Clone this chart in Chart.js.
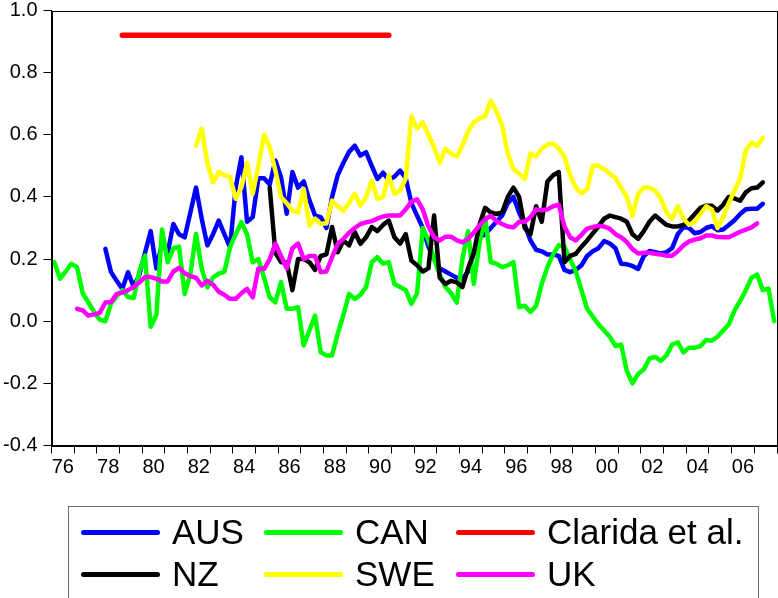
<!DOCTYPE html>
<html>
<head>
<meta charset="utf-8">
<script src="https://cdn.jsdelivr.net/npm/chart.js@4.4.1/dist/chart.umd.min.js"></script>
<style>
  html, body { margin: 0; padding: 0; background: #fff; }
  #wrap { position: relative; width: 778px; height: 598px; overflow: hidden; }
  #legend {
    position: absolute; left: 68px; top: 506px; width: 691px; height: 110px;
    border: 1px solid #707070; box-sizing: border-box; padding: 4px 0 0 12px;
    display: grid; grid-template-columns: 183px 192px auto; grid-auto-rows: 42px;
    font-family: "Liberation Sans", Arial, sans-serif; font-size: 35px; color: #000;
  }
  .item { display: flex; align-items: center; white-space: nowrap; }
  .sw { display: inline-block; width: 79px; height: 5px; border-radius: 3px; margin-right: 12px; }
</style>
</head>
<body>
<div id="wrap">
  <canvas id="c" width="778" height="598"></canvas>
  <div id="legend"></div>
</div>
<script>
// quarterly sample 1976Q1 - 2007Q4
const firstYear = 1976;
const quarterLabels = Array.from({ length: 128 }, (_, i) => `${firstYear + Math.floor(i / 4)}Q${i % 4 + 1}`);

// one row = two years (8 quarters)
const aus = [
  null, null, null, null, null, null, null, null,
  null, 0.233, 0.158, 0.13, 0.104, 0.158, 0.11, 0.15,
  0.22, 0.29, 0.17, 0.25, 0.22, 0.313, 0.28, 0.27,
  0.35, 0.43, 0.33, 0.244, 0.28, 0.324, 0.28, 0.238,
  0.43, 0.528, 0.32, 0.335, 0.46, 0.46, 0.44, 0.517,
  0.463, 0.346, 0.48, 0.43, 0.45, 0.39, 0.34, 0.335,
  0.3, 0.4, 0.47, 0.51, 0.545, 0.565, 0.533, 0.544,
  0.5, 0.458, 0.478, 0.453, 0.465, 0.485, 0.46, 0.38,
  0.34, 0.3, 0.24, 0.2, 0.17, 0.16, 0.15, 0.14,
  0.136, 0.16, 0.22, 0.27, 0.28, 0.3, 0.32, 0.34,
  0.38, 0.4, 0.35, 0.31, 0.26, 0.23, 0.225, 0.215,
  0.215, 0.21, 0.165, 0.158, 0.165, 0.18, 0.21, 0.225,
  0.235, 0.258, 0.25, 0.235, 0.185, 0.183, 0.178, 0.168,
  0.21, 0.226, 0.222, 0.218, 0.222, 0.235, 0.28, 0.303,
  0.3, 0.283, 0.287, 0.3, 0.306, 0.293, 0.295, 0.31,
  0.325, 0.345, 0.36, 0.362, 0.362, 0.378, null, null
];
const can = [
  0.19, 0.137, 0.16, 0.185, 0.174, 0.09, 0.061, 0.03,
  0.005, 0.0, 0.057, 0.08, 0.1, 0.078, 0.075, 0.16,
  0.211, -0.018, 0.02, 0.295, 0.19, 0.235, 0.24, 0.088,
  0.152, 0.281, 0.169, 0.109, 0.141, 0.153, 0.159, 0.238,
  0.28, 0.319, 0.28, 0.19, 0.2, 0.14, 0.077, 0.061,
  0.126, 0.04, 0.04, 0.045, -0.078, -0.03, 0.018, -0.1,
  -0.11, -0.11, -0.04, 0.02, 0.088, 0.072, 0.085, 0.11,
  0.19, 0.206, 0.185, 0.19, 0.12, 0.11, 0.1, 0.056,
  0.09, 0.3, 0.26, 0.2, 0.15, 0.11, 0.09, 0.06,
  0.2, 0.29, 0.12, 0.25, 0.335, 0.19, 0.185, 0.174,
  0.18, 0.19, 0.045, 0.05, 0.03, 0.05, 0.12, 0.175,
  0.215, 0.245, 0.24, 0.2, 0.16, 0.1, 0.04, 0.015,
  -0.01, -0.03, -0.05, -0.08, -0.075, -0.16, -0.2, -0.17,
  -0.155, -0.12, -0.115, -0.128, -0.11, -0.075, -0.068, -0.1,
  -0.085, -0.085, -0.08, -0.06, -0.063, -0.05, -0.03, -0.01,
  0.035, 0.065, 0.1, 0.14, 0.15, 0.1, 0.105, 0.0
];
const nz = [
  null, null, null, null, null, null, null, null,
  null, null, null, null, null, null, null, null,
  null, null, null, null, null, null, null, null,
  null, null, null, null, null, null, null, null,
  null, null, null, null, null, null, 0.43, 0.22,
  0.19, 0.19, 0.1, 0.2, 0.2, 0.19, 0.165, 0.21,
  0.215, 0.303, 0.222, 0.26, 0.244, 0.287, 0.249, 0.27,
  0.303, 0.29, 0.31, 0.324, 0.27, 0.25, 0.28, 0.195,
  0.18, 0.16, 0.17, 0.34, 0.14, 0.12, 0.13, 0.125,
  0.11, 0.17, 0.22, 0.31, 0.365, 0.35, 0.345, 0.35,
  0.4, 0.43, 0.4, 0.3, 0.28, 0.37, 0.32, 0.45,
  0.47, 0.48, 0.19, 0.21, 0.217, 0.24, 0.26, 0.283,
  0.305, 0.33, 0.34, 0.335, 0.33, 0.32, 0.28, 0.265,
  0.29, 0.32, 0.34, 0.325, 0.31, 0.305, 0.305, 0.31,
  0.325, 0.345, 0.365, 0.372, 0.372, 0.356, 0.375, 0.4,
  0.395, 0.388, 0.415, 0.428, 0.43, 0.447, null, null
];
const swe = [
  null, null, null, null, null, null, null, null,
  null, null, null, null, null, null, null, null,
  null, null, null, null, null, null, null, null,
  null, 0.565, 0.62, 0.51, 0.447, 0.48, 0.47, 0.465,
  0.394, 0.43, 0.51, 0.41, 0.5, 0.6, 0.56, 0.485,
  0.4, 0.38, 0.356, 0.35, 0.426, 0.308, 0.33, 0.313,
  0.315, 0.388, 0.37, 0.356, 0.38, 0.41, 0.372, 0.4,
  0.453, 0.394, 0.4, 0.47, 0.41, 0.42, 0.46, 0.66,
  0.62, 0.64, 0.6, 0.56, 0.51, 0.555, 0.54, 0.53,
  0.565, 0.61, 0.64, 0.652, 0.66, 0.71, 0.675, 0.63,
  0.54, 0.49, 0.475, 0.458, 0.54, 0.53, 0.555, 0.568,
  0.572, 0.555, 0.53, 0.47, 0.43, 0.412, 0.425, 0.5,
  0.5, 0.49, 0.475, 0.46, 0.43, 0.4, 0.34, 0.41,
  0.43, 0.43, 0.42, 0.395, 0.35, 0.33, 0.37, 0.33,
  0.31, 0.32, 0.345, 0.37, 0.36, 0.3, 0.335, 0.38,
  0.42, 0.46, 0.55, 0.575, 0.565, 0.59, null, null
];
const uk = [
  null, null, null, null, 0.04, 0.035, 0.018, 0.022,
  0.027, 0.06, 0.062, 0.088, 0.092, 0.1, 0.11, 0.125,
  0.142, 0.142, 0.137, 0.128, 0.128, 0.16, 0.172, 0.155,
  0.145, 0.14, 0.115, 0.13, 0.118, 0.095, 0.085, 0.072,
  0.072, 0.09, 0.104, 0.077, 0.17, 0.168, 0.2, 0.25,
  0.21, 0.17, 0.235, 0.25, 0.2, 0.21, 0.21, 0.158,
  0.16, 0.206, 0.249, 0.265, 0.285, 0.3, 0.313, 0.318,
  0.322, 0.33, 0.337, 0.34, 0.34, 0.34, 0.36, 0.385,
  0.392, 0.36, 0.305, 0.27, 0.26, 0.272, 0.272, 0.26,
  0.254, 0.265, 0.285, 0.308, 0.328, 0.34, 0.322, 0.313,
  0.305, 0.302, 0.32, 0.32, 0.335, 0.36, 0.357, 0.36,
  0.37, 0.375, 0.305, 0.27, 0.26, 0.278, 0.298, 0.303,
  0.307, 0.305, 0.297, 0.28, 0.27, 0.255, 0.232, 0.218,
  0.22, 0.22, 0.217, 0.215, 0.211, 0.211, 0.225, 0.244,
  0.257, 0.263, 0.267, 0.276, 0.276, 0.271, 0.27, 0.27,
  0.279, 0.288, 0.295, 0.302, 0.315, null, null, null
];
// Clarida et al. benchmark, flat over its sample
const claridaQuarters = ['1979Q1', '1990Q4'];
const claridaValues = [0.92, 0.92];

const yTicks = [-0.4, -0.2, 0.0, 0.2, 0.4, 0.6, 0.8, 1.0];
const xTickLabels = ['76', '78', '80', '82', '84', '86', '88', '90', '92', '94', '96', '98', '00', '02', '04', '06'];
const legendOrder = ['AUS', 'CAN', 'Clarida et al.', 'NZ', 'SWE', 'UK'];

// each quarter sits in the middle of its slot on a year axis
const qx = q => { const i = quarterLabels.indexOf(q); return firstYear + (i + 0.5) / 4; };
const toPts = arr => arr.map((v, i) => ({ x: qx(quarterLabels[i]), y: v }));

function line(label, data, color, order, width) {
  return {
    label, data, borderColor: color, backgroundColor: color, order,
    borderWidth: width || 4.5, pointRadius: 0, tension: 0, spanGaps: false,
    borderCapStyle: 'round', borderJoinStyle: 'round'
  };
}

const frame = {
  id: 'frame',
  afterDatasetsDraw(chart) {
    const a = chart.chartArea, ctx = chart.ctx;
    ctx.save();
    ctx.strokeStyle = '#000'; ctx.lineWidth = 1;
    ctx.strokeRect(Math.round(a.left) + 0.5, Math.round(a.top) + 0.5, Math.round(a.right - a.left) - 1, Math.round(a.bottom - a.top));
    ctx.restore();
  }
};

const htmlLegend = {
  id: 'htmlLegend',
  afterUpdate(chart) {
    const box = document.getElementById('legend');
    box.innerHTML = '';
    legendOrder.forEach(name => {
      const ds = chart.data.datasets.find(d => d.label === name);
      const it = document.createElement('div');
      it.className = 'item';
      it.innerHTML = `<span class="sw" style="background:${ds.borderColor}"></span><span>${name}</span>`;
      box.appendChild(it);
    });
  }
};

Chart.defaults.color = '#000';
Chart.defaults.font.family = '"Liberation Sans", Arial, sans-serif';

const yearPx = (776.5 - 51.6) / 32;

new Chart(document.getElementById('c'), {
  type: 'line',
  data: {
    datasets: [
      line('AUS', toPts(aus), '#0000ff', 6),
      line('CAN', toPts(can), '#00ff00', 5),
      line('Clarida et al.', claridaQuarters.map((q, i) => ({ x: qx(q), y: claridaValues[i] })), '#ff0000', 4, 5.5),
      line('NZ', toPts(nz), '#000000', 3),
      line('SWE', toPts(swe), '#ffff00', 2),
      line('UK', toPts(uk), '#ff00ff', 1)
    ]
  },
  options: {
    responsive: false,
    animation: false,
    events: [],
    layout: { padding: { top: 10.5, right: 1, left: 0, bottom: 0 } },
    plugins: { legend: { display: false }, tooltip: { enabled: false } },
    scales: {
      x: {
        type: 'linear', min: firstYear, max: firstYear + 32,
        afterBuildTicks: s => { s.ticks = Array.from({ length: 33 }, (_, k) => ({ value: firstYear + k })); },
        afterFit: s => { s.height = 152.5; s.paddingLeft = 0; s.paddingRight = 0; },
        grid: { drawOnChartArea: false, drawTicks: true, tickLength: 8, color: '#000' },
        border: { display: true, color: '#000', width: 1 },
        ticks: {
          autoSkip: false, maxRotation: 0, minRotation: 0, padding: 2,
          labelOffset: yearPx / 2,
          font: { size: 20 },
          callback: v => {
            const k = v - firstYear;
            return (k % 2 === 0 && k / 2 < xTickLabels.length) ? xTickLabels[k / 2] : '';
          }
        }
      },
      y: {
        min: -0.4, max: 1.0,
        afterBuildTicks: s => { s.ticks = yTicks.map(v => ({ value: v })); },
        afterFit: s => { s.width = 51.5; s.paddingTop = 0; s.paddingBottom = 0; },
        grid: { drawOnChartArea: false, drawTicks: true, tickLength: 8, color: '#000' },
        border: { display: true, color: '#000', width: 1 },
        ticks: { padding: 6, font: { size: 20 }, callback: v => v.toFixed(1) }
      }
    }
  },
  plugins: [frame, htmlLegend]
});
</script>
</body>
</html>
